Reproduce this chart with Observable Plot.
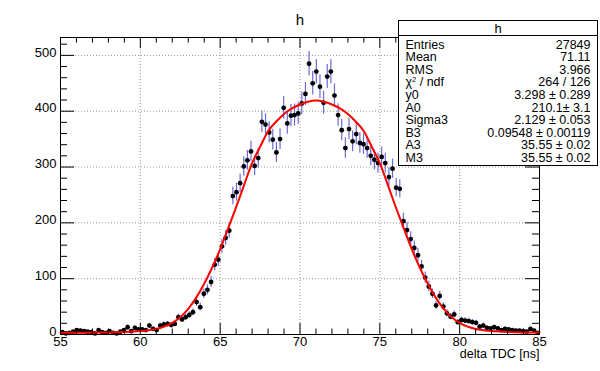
<!DOCTYPE html>
<html>
<head>
<meta charset="utf-8">
<script src="https://cdn.jsdelivr.net/npm/d3@7"></script>
<script src="https://cdn.jsdelivr.net/npm/@observablehq/plot@0.6"></script>
<style>
  body { margin: 0; background: #fff; font-family: "Liberation Sans", Arial, sans-serif; color: #000; }
</style>
</head>
<body>
<div id="chart"></div>
<script>
// Histogram definition (bins over delta TDC)
const histLo = 55;
const histHi = 85;
const nBins = 132;
// Bin contents
const counts = [
  4, 2, 3, 5, 8, 7, 6, 5, 4, 2,
  8, 4, 3, 6, 3, 2, 5, 8, 13, 6,
  12, 9, 9, 8, 16, 10, 8, 16, 18, 19,
  17, 19, 31, 27, 31, 35, 40, 58, 49, 73,
  80, 94, 125, 134, 158, 173, 186, 248, 255, 271,
  301, 312, 328, 302, 316, 381, 376, 362, 349, 326,
  350, 406, 378, 392, 393, 396, 414, 431, 485, 450,
  471, 444, 415, 462, 471, 428, 393, 366, 334, 368,
  346, 359, 343, 341, 334, 320, 313, 307, 318, 307,
  282, 297, 263, 261, 203, 187, 171, 155, 142, 122,
  102, 86, 73, 52, 69, 50, 38, 32, 36, 22,
  26, 25, 24, 22, 21, 14, 16, 12, 11, 13,
  11, 8, 10, 9, 8, 7, 7, 6, 5, 10,
  7, 3
];
// Fit curve
const fitX = [55, 55.5, 56, 56.5, 57, 57.5, 58, 58.5, 59, 59.5, 60, 60.5, 61, 61.5, 62, 62.5, 63, 63.5, 64, 64.5,
  65, 65.5, 66, 66.5, 67, 67.5, 68, 68.5, 69, 69.5, 70, 70.5, 71, 71.5, 72, 72.5, 73, 73.5, 74, 74.5,
  75, 75.5, 76, 76.5, 77, 77.5, 78, 78.5, 79, 79.5, 80, 80.5, 81, 81.5, 82, 82.5, 83, 83.5, 84, 84.5, 85];
const fitY = [3.3, 3.3, 3.3, 3.3, 3.4, 3.5, 3.7, 4, 4.5, 5.2, 6.2, 7.8, 10, 14, 21, 31, 46, 66, 91, 120,
  153, 190, 228, 268, 307, 336, 364, 381, 395, 405, 412, 417, 419, 417, 412, 405, 395, 381, 364, 336,
  307, 268, 228, 190, 153, 120, 91, 66, 46, 31, 21, 14, 10, 7.8, 6.2, 5.2, 4.5, 4, 3.7, 3.5, 3.4];
// Axis ticks
const xMajor = [55, 60, 65, 70, 75, 80, 85];
const xMinor = [56, 57, 58, 59, 61, 62, 63, 64, 66, 67, 68, 69, 71, 72, 73, 74, 76, 77, 78, 79, 81, 82, 83, 84];
const yMajor = [0, 100, 200, 300, 400, 500];
const yMinor = [20, 40, 60, 80, 120, 140, 160, 180, 220, 240, 260, 280, 320, 340, 360, 380, 420, 440, 460, 480, 520];
const yMax = 532;
// Stats box
const statTitle = "h";
const statKeys = ["Entries", "Mean", "RMS", "χ2 / ndf", "y0", "A0", "Sigma3", "B3", "A3", "M3"];
const statVals = ["27849", "71.11", "3.966", "264 / 126", "3.298 ± 0.289", "210.1± 3.1", "2.129 ± 0.053",
  "0.09548 ± 0.00119", "35.55 ± 0.02", "35.55 ± 0.02"];

const W = 600, H = 371;
const mL = 60, mR = 61, mT = 37, mB = 37;
const kx = (W - mL - mR) / (histHi - histLo);
const ky = (H - mT - mB) / yMax;
const bw = (histHi - histLo) / nBins;
const bins = counts.map((n, i) => ({x: histLo + (i + 0.5) * bw, n}));
const fit = fitX.map((x, i) => ({x, y: fitY[i]}));

const xMajLen = 11 / ky, xMinLen = 5.5 / ky;
const yMajLen = 14 / kx, yMinLen = 7 / kx;
const grid = {stroke: "#9a9a9a", strokeWidth: 1, strokeDasharray: "1,2"};
const font = '"Liberation Sans", Arial, sans-serif';

const chart = Plot.plot({
  width: W, height: H,
  marginLeft: mL, marginRight: mR, marginTop: mT, marginBottom: mB,
  style: {fontFamily: font, fontSize: "12px", background: "#fff", color: "#000"},
  x: {domain: [histLo, histHi]},
  y: {domain: [0, yMax]},
  marks: [
    Plot.ruleX(xMajor.slice(1, -1), grid),
    Plot.ruleY(yMajor.slice(1), grid),
    Plot.ruleX(bins, {x: "x", y1: d => Math.max(0, d.n - Math.sqrt(d.n)), y2: d => d.n + Math.sqrt(d.n), stroke: "#6b6bd6", strokeWidth: 1.2}),
    Plot.dot(bins, {x: "x", y: "n", r: 2.4, fill: "#000", stroke: null}),
    Plot.line(fit, {x: "x", y: "y", stroke: "#f00", strokeWidth: 2, curve: "monotone-x"}),
    // ticks (inside frame, ROOT style)
    Plot.ruleX(xMajor, {x: d => d, y1: 0, y2: xMajLen, stroke: "#000"}),
    Plot.ruleX(xMinor, {x: d => d, y1: 0, y2: xMinLen, stroke: "#000"}),
    Plot.ruleX(xMajor, {x: d => d, y1: yMax - xMajLen, y2: yMax, stroke: "#000"}),
    Plot.ruleX(xMinor, {x: d => d, y1: yMax - xMinLen, y2: yMax, stroke: "#000"}),
    Plot.ruleY(yMajor, {y: d => d, x1: histLo, x2: histLo + yMajLen, stroke: "#000"}),
    Plot.ruleY(yMinor, {y: d => d, x1: histLo, x2: histLo + yMinLen, stroke: "#000"}),
    Plot.ruleY(yMajor, {y: d => d, x1: histHi - yMajLen, x2: histHi, stroke: "#000"}),
    Plot.ruleY(yMinor, {y: d => d, x1: histHi - yMinLen, x2: histHi, stroke: "#000"}),
    Plot.frame({stroke: "#000", strokeWidth: 1}),
    Plot.axisX({ticks: xMajor, tickSize: 0, tickPadding: 2, fontSize: 13, label: null, tickFormat: d => String(d)}),
    Plot.axisY({ticks: yMajor, tickSize: 0, tickPadding: 4, fontSize: 13, label: null, tickFormat: d => String(d), dy: -3}),
    Plot.text(["delta TDC [ns]"], {frameAnchor: "bottom-right", dy: 23, textAnchor: "end", fontSize: 12.5}),
    Plot.text(["h"], {frameAnchor: "top", dy: -23, fontSize: 15})
  ]
});
document.getElementById("chart").appendChild(chart);

// Stats box drawn into the same SVG
const svg = d3.select(chart);
const bx = 398.5, by = 20.5, bwid = 199, bh = 145;
const g = svg.append("g").attr("font-family", font).attr("font-size", 12.5)
  .attr("fill", "#000").attr("text-anchor", "start");
g.append("rect").attr("x", bx).attr("y", by).attr("width", bwid).attr("height", bh)
  .attr("fill", "#fff").attr("stroke", "#000");
g.append("line").attr("x1", bx).attr("x2", bx + bwid).attr("y1", by + 15).attr("y2", by + 15).attr("stroke", "#000");
g.append("text").attr("x", bx + bwid / 2).attr("y", by + 12).attr("text-anchor", "middle")
  .attr("fill", "#000").attr("font-size", 13).text(statTitle);
statKeys.forEach((k, i) => {
  const y = by + 28 + i * 12.6;
  const t = g.append("text").attr("x", bx + 7).attr("y", y).attr("text-anchor", "start").attr("fill", "#000");
  if (k.startsWith("χ2")) {
    t.append("tspan").text("χ");
    t.append("tspan").attr("font-size", 7.5).attr("dy", -4).text("2");
    t.append("tspan").attr("dy", 4).text(" / ndf");
  } else {
    t.text(k);
  }
  g.append("text").attr("x", bx + bwid - 7).attr("y", y).attr("text-anchor", "end").attr("fill", "#000").text(statVals[i]);
});
</script>
</body>
</html>
